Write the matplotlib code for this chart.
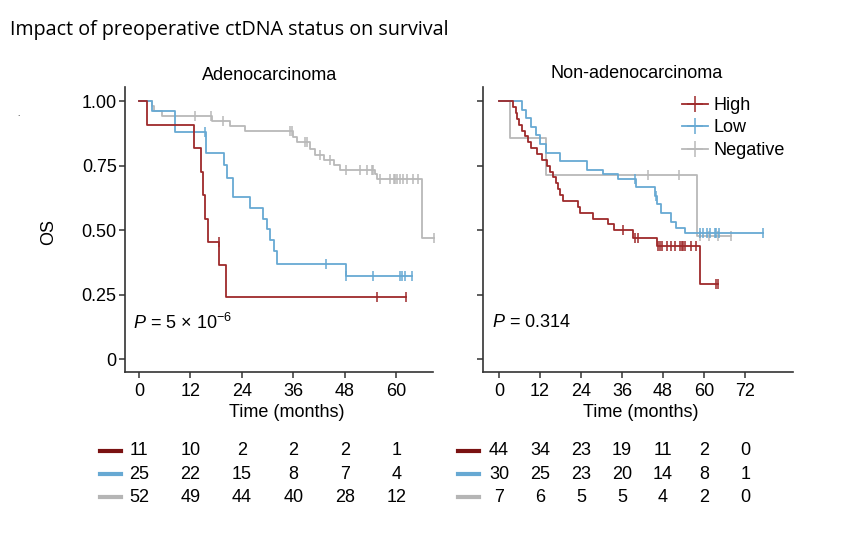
import numpy as np
import matplotlib
matplotlib.use("Agg")
import matplotlib.pyplot as plt
from matplotlib.lines import Line2D

plt.rcParams['font.family'] = ['Liberation Sans', 'DejaVu Sans']
plt.rcParams['mathtext.fontset'] = 'custom'
plt.rcParams['mathtext.rm'] = 'Liberation Sans'
plt.rcParams['mathtext.it'] = 'Liberation Sans:italic'

# ---- Adenocarcinoma curves (step times, survival), end time, censor times ----
hi_a_t = [0, 1.8, 12.8, 14.4, 15.0, 15.5, 16.0, 18.7, 20.3]
hi_a_s = [1.0, 0.909, 0.818, 0.727, 0.636, 0.545, 0.455, 0.364, 0.242]
hi_a_end = 62.2
hi_a_cens = [18.6, 55.5, 62.2]

lo_a_t = [0, 3.1, 8.4, 15.6, 19.9, 20.6, 21.9, 25.8, 29.0, 29.8, 30.6, 31.4, 32.1, 48.3]
lo_a_s = [1.0, 0.96, 0.88, 0.80, 0.752, 0.704, 0.629, 0.587, 0.544, 0.503, 0.462, 0.418, 0.370, 0.321]
lo_a_end = 63.8
lo_a_cens = [15.5, 43.7, 48.4, 54.6, 60.9, 61.4, 62.0, 63.8]

ng_a_t = [0, 3.1, 3.6, 5.3, 17.0, 21.2, 24.7, 36.0, 36.8, 39.9, 41.1, 43.2, 45.4, 46.9, 55.1, 55.5, 66.0]
ng_a_s = [1.0, 0.981, 0.962, 0.942, 0.924, 0.904, 0.883, 0.862, 0.840, 0.816, 0.792, 0.770,
          0.751, 0.732, 0.716, 0.698, 0.47]
ng_a_end = 68.9
ng_a_cens = [13.1, 16.7, 19.5, 35.3, 35.7, 38.7, 39.1, 42.2, 44.6, 48.3, 51.6, 53.2, 54.3,
             54.7, 56.3, 58.6, 59.4, 59.8, 60.2, 60.9, 61.7, 62.5, 64.0, 65.2, 68.9]

# ---- Non-adenocarcinoma curves ----
hi_n_t = [0, 4.2, 4.9, 5.4, 5.9, 6.6, 7.6, 8.6, 9.5, 11.0, 12.5, 13.9, 14.9, 15.9, 16.7,
          17.3, 17.8, 18.8, 23.2, 23.7, 27.6, 31.9, 33.6, 39.2, 46.1, 58.7]
hi_n_s = [1.0, 0.977, 0.955, 0.932, 0.909, 0.886, 0.864, 0.841, 0.818, 0.795, 0.773, 0.75,
          0.727, 0.705, 0.682, 0.659, 0.636, 0.614, 0.59, 0.568, 0.545, 0.522, 0.50, 0.47,
          0.44, 0.29]
hi_n_end = 64.1
hi_n_cens = [36.3, 39.7, 40.7, 46.6, 47.1, 47.6, 49.0, 50.4, 51.4, 52.9, 53.6, 53.9, 54.3,
             56.2, 57.7, 63.6, 64.1]

lo_n_t = [0, 6.6, 7.9, 9.3, 10.8, 12.0, 13.7, 17.8, 25.6, 30.5, 34.9, 40.2, 45.6, 46.3,
          47.5, 50.4, 51.9, 54.3]
lo_n_s = [1.0, 0.967, 0.933, 0.90, 0.867, 0.833, 0.80, 0.767, 0.733, 0.717, 0.70, 0.667,
          0.633, 0.60, 0.567, 0.533, 0.51, 0.487]
lo_n_end = 77.2
lo_n_cens = [39.7, 46.0, 58.7, 59.7, 60.8, 61.6, 63.1, 63.6, 64.4, 77.2]

ng_n_t = [0, 3.2, 13.7, 57.9]
ng_n_s = [1.0, 0.857, 0.714, 0.476]
ng_n_end = 68.0
ng_n_cens = [43.6, 52.7, 58.7, 61.5, 64.0, 68.0]

# ---- numbers at risk ----
risk_a_times = [0, 12, 24, 36, 48, 60]
risk_a_high = [11, 10, 2, 2, 2, 1]
risk_a_low = [25, 22, 15, 8, 7, 4]
risk_a_neg = [52, 49, 44, 40, 28, 12]

risk_n_times = [0, 12, 24, 36, 48, 60, 72]
risk_n_high = [44, 34, 23, 19, 11, 2, 0]
risk_n_low = [30, 25, 23, 20, 14, 8, 1]
risk_n_neg = [7, 6, 5, 5, 4, 2, 0]

groups = ["High", "Low", "Negative"]
colors = ["#9e2a2b", "#67a9d3", "#b9b9b9"]
dash_colors = ["#7a1212", "#67a9d3", "#b5b5b5"]
FS = 13


def km(ax, t, s, end, cens, color):
    t = np.array(t)
    s = np.array(s)
    ax.step(np.append(t, end), np.append(s, s[-1]), where="post", color=color, lw=1.3,
            clip_on=False)
    idx = np.searchsorted(t, cens, side="right") - 1
    ax.plot(cens, s[idx], ls="none", marker="|", ms=7, mew=1.1, color=color, clip_on=False)


def style(ax, xlim, xticks):
    ax.set_xlim(*xlim)
    ax.set_ylim(-0.05, 1.055)
    for sp in ["top", "right"]:
        ax.spines[sp].set_visible(False)
    for sp in ["left", "bottom"]:
        ax.spines[sp].set_linewidth(1.2)
        ax.spines[sp].set_color("#333333")
    ax.set_xticks(xticks)
    ax.set_yticks([0, 0.25, 0.5, 0.75, 1.0])
    ax.tick_params(length=4, width=1.1, labelsize=FS, color="#333333")
    ax.tick_params(axis="x", pad=4)
    ax.tick_params(axis="y", pad=2)
    ax.set_xlabel("Time (months)", fontsize=FS)


def risk(ax, times, rows):
    ys = [-0.277, -0.358, -0.439]
    for row, y, c in zip(rows, ys, dash_colors):
        ax.plot([-0.081, -0.012], [y, y], transform=ax.transAxes, clip_on=False, color=c, lw=3)
        for tt, n in zip(times, row):
            ax.text(tt, y, str(n), transform=ax.get_xaxis_transform(), ha="center",
                    va="center", fontsize=FS)


fig = plt.figure(figsize=(8.65, 5.53), dpi=100)
ax1 = fig.add_axes([0.1445, 0.3273, 0.3561, 0.5154])
ax2 = fig.add_axes([0.5584, 0.3273, 0.3584, 0.5154])

km(ax1, ng_a_t, ng_a_s, ng_a_end, ng_a_cens, colors[2])
km(ax1, lo_a_t, lo_a_s, lo_a_end, lo_a_cens, colors[1])
km(ax1, hi_a_t, hi_a_s, hi_a_end, hi_a_cens, colors[0])

km(ax2, ng_n_t, ng_n_s, ng_n_end, ng_n_cens, colors[2])
km(ax2, lo_n_t, lo_n_s, lo_n_end, lo_n_cens, colors[1])
km(ax2, hi_n_t, hi_n_s, hi_n_end, hi_n_cens, colors[0])

style(ax1, (-3.27, 68.6), risk_a_times)
style(ax2, (-4.68, 86.0), risk_n_times)
ax1.set_yticklabels(["0", "0.25", "0.50", "0.75", "1.00"])
ax2.set_yticklabels([])
ax1.set_ylabel("OS", fontsize=FS)
ax1.yaxis.set_label_coords(-0.221, 0.491)
ax1.xaxis.set_label_coords(0.526, -0.112)
ax2.xaxis.set_label_coords(0.51, -0.112)

ax1.text(0.471, 1.042, "Adenocarcinoma", transform=ax1.transAxes, ha="center",
         va="center", fontsize=FS)
ax2.text(0.494, 1.049, "Non-adenocarcinoma", transform=ax2.transAxes, ha="center",
         va="center", fontsize=FS)

ax1.text(0.026, 0.172, r"$P$ = 5 × 10$^{\mathregular{-6}}$", transform=ax1.transAxes,
         ha="left", va="center", fontsize=FS)
ax2.text(0.029, 0.172, r"$P$ = 0.314", transform=ax2.transAxes, ha="left",
         va="center", fontsize=FS)

handles = [Line2D([], [], color=c, lw=1.3, marker="+", ms=12, mew=1.1) for c in colors]
ax2.legend(handles, groups, loc="upper left", bbox_to_anchor=(0.62, 0.99), frameon=False,
           fontsize=FS, handlelength=1.4, handletextpad=0.3, labelspacing=0.3,
           borderaxespad=0)

risk(ax1, risk_a_times, [risk_a_high, risk_a_low, risk_a_neg])
risk(ax2, risk_n_times, [risk_n_high, risk_n_low, risk_n_neg])

fig.text(10 / 865, 1 - 30 / 553, "Impact of preoperative ctDNA status on survival",
         family="Open Sans", fontsize=14.2, ha="left", va="center")
fig.text(18 / 865, 1 - 115 / 553, ".", fontsize=6, ha="center", va="center")

fig.savefig("out.png", dpi=100)
